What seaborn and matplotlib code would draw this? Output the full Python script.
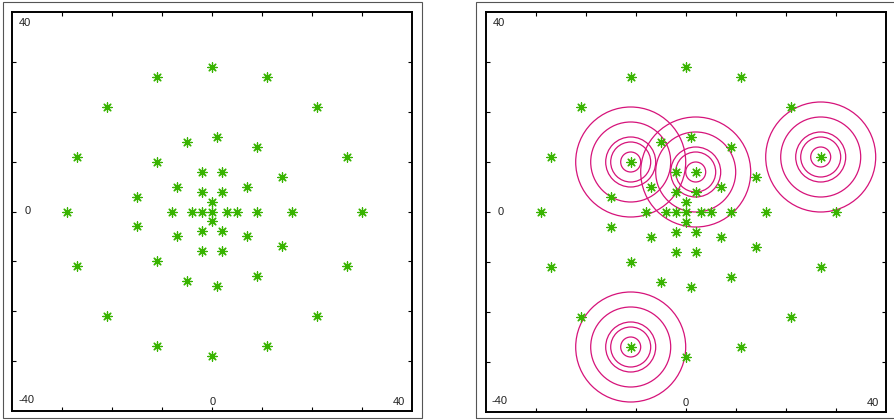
import numpy as np
import matplotlib
matplotlib.use("Agg")
import matplotlib.pyplot as plt
from matplotlib.patches import Circle, Rectangle
import seaborn as sns

# point cloud (same in both panels)
xs = [0, -11, 11, -21, 21, -27, 27, -29, 30, -27, 27, -21, 21, -11, 11, 0,
      -5, 1, 9, -11, 14, -15, 16, -15, 14, -11, 9, -5, 1,
      -2, 2, -7, 7, -2, 2, 0, -8, -4, -2, 0, 3, 5, 9, 0, -2, 2, -7, 7, -2, 2]
ys = [29, 27, 27, 21, 21, 11, 11, 0, 0, -11, -11, -21, -21, -27, -27, -29,
      14, 15, 13, 10, 7, 3, 0, -3, -7, -10, -13, -14, -15,
      8, 8, 5, 5, 4, 4, 2, 0, 0, 0, 0, 0, 0, 0, -2, -4, -4, -5, -5, -8, -8]

# ring centres in the right panel and ring radii
centre_x = [-11, 2, 27, -11]
centre_y = [10, 8, 11, -27]
radii = [2, 4, 5, 8, 11]

# corner labels
lab_text = ["40", "0", "-40", "0", "40"]
lab_x = [-37.4, -37.0, -37.2, 0, 37.4]
lab_y = [37.7, 0, -37.8, -38.1, -38.1]

green = "#38b400"
pink = "#d6137a"

sns.set_style("white")
plt.rcParams["font.family"] = ["Liberation Sans", "DejaVu Sans"]

fig = plt.figure(figsize=(8.94, 4.2), dpi=100)
ax1 = fig.add_axes([12.3 / 894, 9 / 420, 400 / 894, 399 / 420])
ax2 = fig.add_axes([485.7 / 894, 8 / 420, 400 / 894, 400 / 420])

# thin outer frames around each panel
fig.patches.append(Rectangle((3 / 894, 2 / 420), 419 / 894, 416 / 420,
                             transform=fig.transFigure, fill=False,
                             edgecolor="#555555", linewidth=0.8))
fig.patches.append(Rectangle((476 / 894, 2 / 420), 430 / 894, 416 / 420,
                             transform=fig.transFigure, fill=False,
                             edgecolor="#555555", linewidth=0.8))

for ax in (ax1, ax2):
    sns.scatterplot(x=xs, y=ys, ax=ax, marker=(8, 2, 0), color=green,
                    s=45, linewidth=0.9, zorder=3)
    ax.set_xlim(-40, 40)
    ax.set_ylim(-40, 40)
    ax.set_xticks(np.arange(-30, 40, 10))
    ax.set_yticks(np.arange(-30, 40, 10))
    ax.set_xticklabels([])
    ax.set_yticklabels([])
    ax.tick_params(direction="in", length=3, width=0.8, top=True, right=True,
                   bottom=True, left=True, color="black")
    for sp in ax.spines.values():
        sp.set_visible(True)
        sp.set_color("black")
        sp.set_linewidth(1.4)
    for t, x, y in zip(lab_text, lab_x, lab_y):
        ax.text(x, y, t, ha="center", va="center", fontsize=8, color="#222222")

for cx, cy in zip(centre_x, centre_y):
    for r in radii:
        ax2.add_patch(Circle((cx, cy), r, fill=False, edgecolor=pink,
                             linewidth=0.9, zorder=2))

fig.savefig("out.png", dpi=100)
